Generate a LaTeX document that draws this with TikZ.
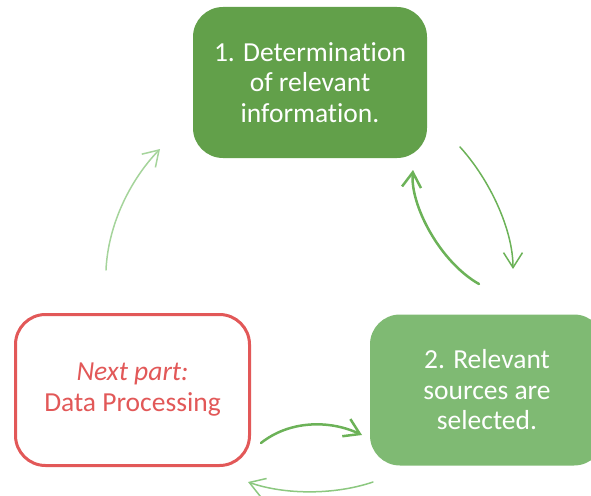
\documentclass[tikz,border=0pt]{standalone}
\usepackage{fontspec}
\setmainfont{Carlito}[Ligatures={NoCommon}]
\usetikzlibrary{arrows.meta}
\definecolor{stepdark}{RGB}{98,160,74}
\definecolor{steplight}{RGB}{127,186,115}
\definecolor{nextred}{RGB}{226,88,88}
\definecolor{arrowmid}{RGB}{108,178,88}
\definecolor{arrowsoft}{RGB}{140,200,128}
\definecolor{arrowpale}{RGB}{165,212,155}
\tikzset{
  stepbox/.style={rounded corners=30pt, draw=none, text=white, align=center,
    font=\fontsize{27.5}{30.5}\selectfont, minimum width=234pt, minimum height=151pt},
  nextbox/.style={rounded corners=30pt, draw=nextred, line width=3pt, fill=white,
    text=nextred, align=center, font=\fontsize{27.5}{31}\selectfont,
    minimum width=234pt, minimum height=151pt},
  flow/.style={-{Straight Barb[length=15pt,width=19pt]}, line cap=round},
}
\begin{document}
\begin{tikzpicture}[x=1pt,y=-1pt]
\useasboundingbox (0,0) rectangle (591,495);
\clip (0,0) rectangle (591,495);

% the three stages
\node[stepbox, fill=stepdark] (b1) at (310,82.5) {1. Determination\\of relevant\\information.};
\node[stepbox, fill=steplight] (b3) at (487,390) {2. Relevant\\sources are\\selected.};
\node[nextbox] (b2) at (132.5,390) {\textit{Next part:}\\Data Processing};

% free ends of the curved arrows
\coordinate (as) at (460,147);  \coordinate (ae) at (513,269);
\coordinate (bs) at (479,284);  \coordinate (be) at (413,170);
\coordinate (cs) at (261,443);  \coordinate (ce) at (362,435);
\coordinate (ds) at (373,482);  \coordinate (de) at (248,482);
\coordinate (es) at (106,270);  \coordinate (ee) at (160,149);

\draw[flow, arrowmid, line width=1.5pt] (as) .. controls (490,180) and (513,230) .. (ae);
\draw[flow, arrowmid, line width=2.5pt] (bs) .. controls (440,262) and (410,205) .. (be);
\draw[flow, arrowmid, line width=2.5pt] (cs) .. controls (290,420) and (330,420) .. (ce);
\draw[flow, arrowsoft, line width=1.5pt] (ds) .. controls (335,495) and (285,495) .. (de);
\draw[flow, arrowpale, line width=1.5pt] (es) .. controls (108,225) and (130,180) .. (ee);
\end{tikzpicture}
\end{document}
